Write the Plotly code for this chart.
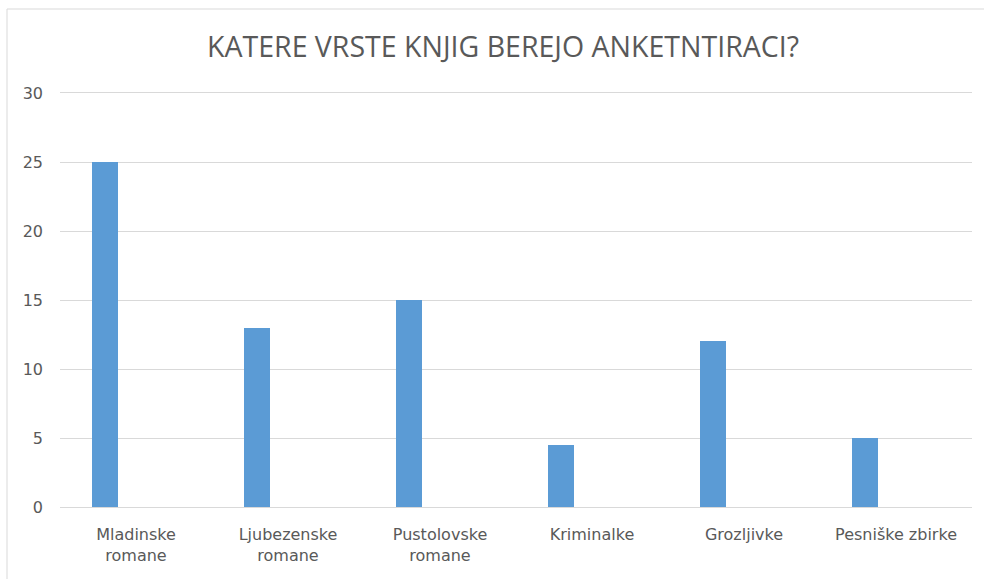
import plotly.graph_objects as go

categories = ["Mladinske<br>romane", "Ljubezenske<br>romane", "Pustolovske<br>romane",
              "Kriminalke", "Grozljivke", "Pesniške zbirke"]
values = [25, 13, 15, 4.5, 12, 5]
title_text = "KATERE VRSTE KNJIG BEREJO ANKETNTIRACI?"

W, H = 984, 579
L, R, T, B = 60, 12, 93, 72

fig = go.Figure()
fig.add_trace(go.Bar(
    x=categories, y=values,
    marker=dict(color="#5b9bd5", line=dict(width=0)),
    width=26 / 152, offset=-44 / 152,
    hoverinfo="x+y",
))

# chart frame (Excel chart area border)
fx0 = (7 - L) / (W - L - R)
fy1 = 1 + (T - 9) / (H - T - B)
fig.add_shape(type="rect", xref="paper", yref="paper",
              x0=fx0, x1=1.5, y0=-1, y1=fy1,
              line=dict(color="#d9d9d9", width=1), layer="below")

fig.update_layout(
    width=W, height=H,
    margin=dict(l=L, r=R, t=T, b=B),
    paper_bgcolor="white", plot_bgcolor="white",
    showlegend=False,
    title=dict(text=title_text, x=503 / W, xanchor="center", y=1 - 47 / H, yanchor="middle",
               xref="container", yref="container",
               font=dict(family="Open Sans, sans-serif", size=28.5, color="#595959")),
    font=dict(family="DejaVu Sans, sans-serif", size=16, color="#595959"),
    bargap=0,
)
fig.update_xaxes(showline=True, mirror=True, linecolor="#d9d9d9", linewidth=1, ticks="",
                 ticklabelstandoff=13,
                 tickfont=dict(family="DejaVu Sans, sans-serif", size=16, color="#595959"),
                 fixedrange=True)
fig.update_yaxes(range=[0, 30], dtick=5, showgrid=True, gridcolor="#d9d9d9", gridwidth=1,
                 zeroline=False, showline=False, ticks="", ticklabelstandoff=16,
                 tickfont=dict(family="DejaVu Sans, sans-serif", size=16, color="#595959"),
                 fixedrange=True)

fig.write_html("out.html", config={"displayModeBar": False},
               post_script="document.body.style.margin='0px';")
